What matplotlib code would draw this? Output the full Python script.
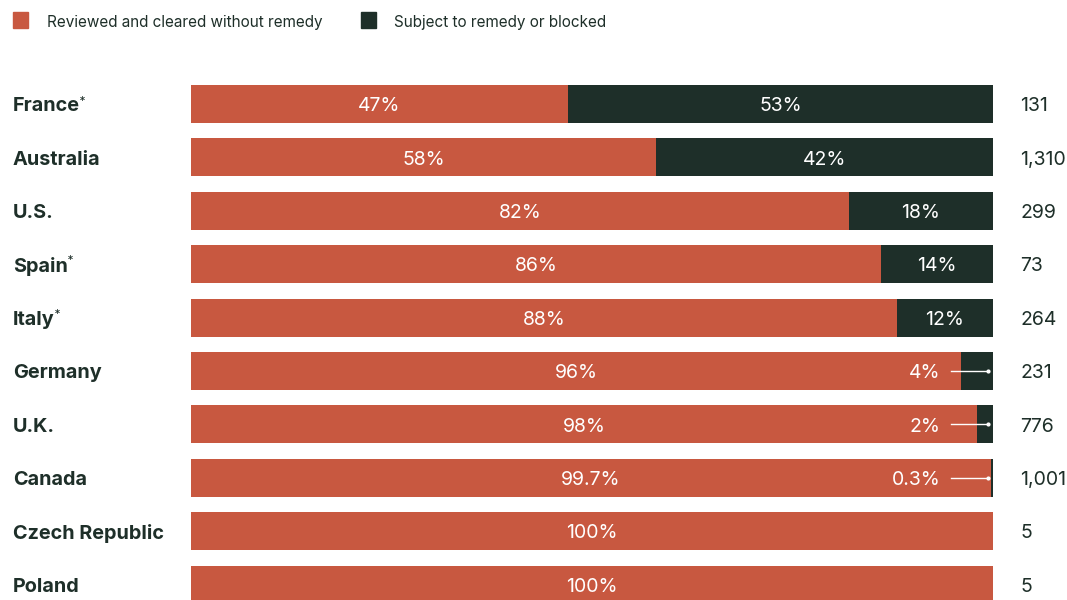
import matplotlib.pyplot as plt
from matplotlib.patches import Rectangle
from matplotlib.transforms import blended_transform_factory

plt.rcParams["font.family"] = ["Inter", "DejaVu Sans"]

# データ
countries = ["France", "Australia", "U.S.", "Spain", "Italy", "Germany",
             "U.K.", "Canada", "Czech Republic", "Poland"]
starred = ["France", "Spain", "Italy"]
cleared = [47, 58, 82, 86, 88, 96, 98, 99.7, 100, 100]
remedy = [53, 42, 18, 14, 12, 4, 2, 0.3, 0, 0]
cleared_labels = ["47%", "58%", "82%", "86%", "88%", "96%", "98%", "99.7%", "100%", "100%"]
remedy_labels = ["53%", "42%", "18%", "14%", "12%", "4%", "2%", "0.3%", "", ""]
counts = ["131", "1,310", "299", "73", "264", "231", "776", "1,001", "5", "5"]

ORANGE = "#C85840"
DARK = "#1E2F29"
TEXT = "#1E2F29"

fig = plt.figure(figsize=(10.67, 6), dpi=100)
# 棒の領域（x: 191〜993px, 行中心 104px + 53.4px 間隔）
ax = fig.add_axes([191 / 1067, -11.3 / 600, 802 / 1067, 534 / 600])
ax.set_xlim(0, 100)
ax.set_ylim(9.5, -0.5)
ax.axis("off")

y = list(range(len(countries)))
ax.barh(y, cleared, height=0.71, color=ORANGE)
ax.barh(y, remedy, left=cleared, height=0.71, color=DARK)

dy = 0.04  # 文字を少し下げる
label_tf = blended_transform_factory(fig.transFigure, ax.transData)
for i, name in enumerate(countries):
    t = ax.text(13 / 1067, i + dy, name, transform=label_tf, ha="left", va="center",
                fontsize=14.3, fontweight="bold", color=TEXT)
    if name in starred:
        # 右肩の小さいアスタリスク
        ax.annotate("*", xy=(1.0, 1.08), xycoords=t, ha="left", va="top",
                    fontsize=7, fontweight="bold", color=TEXT,
                    family=["DejaVu Sans"])
    ax.text(1020 / 1067, i + dy, counts[i], transform=label_tf, ha="left", va="center",
            fontsize=14, color=TEXT)

    # 割合ラベル
    ax.text(cleared[i] / 2, i + dy, cleared_labels[i], ha="center", va="center",
            fontsize=14, color="white")
    if remedy_labels[i] == "":
        continue
    if remedy[i] >= 10:
        ax.text(cleared[i] + remedy[i] / 2, i + dy, remedy_labels[i], ha="center",
                va="center", fontsize=14, color="white")
    else:
        ax.text(93.5, i + dy, remedy_labels[i], ha="right", va="center",
                fontsize=14, color="white")
        ax.plot([94.8, 99.4], [i, i], color="white", lw=1)
        ax.plot([99.4], [i], "o", color="white", ms=2)

# 凡例
fig.patches.append(Rectangle((13 / 1067, 1 - 28 / 600), 15 / 1067, 16 / 600,
                             transform=fig.transFigure, color=ORANGE))
fig.text(47 / 1067, 1 - 22 / 600, "Reviewed and cleared without remedy",
         ha="left", va="center", fontsize=11, color=TEXT)
fig.patches.append(Rectangle((361 / 1067, 1 - 28 / 600), 15 / 1067, 16 / 600,
                             transform=fig.transFigure, color=DARK))
fig.text(394 / 1067, 1 - 22 / 600, "Subject to remedy or blocked",
         ha="left", va="center", fontsize=11, color=TEXT)

fig.savefig("out.png", dpi=100)
